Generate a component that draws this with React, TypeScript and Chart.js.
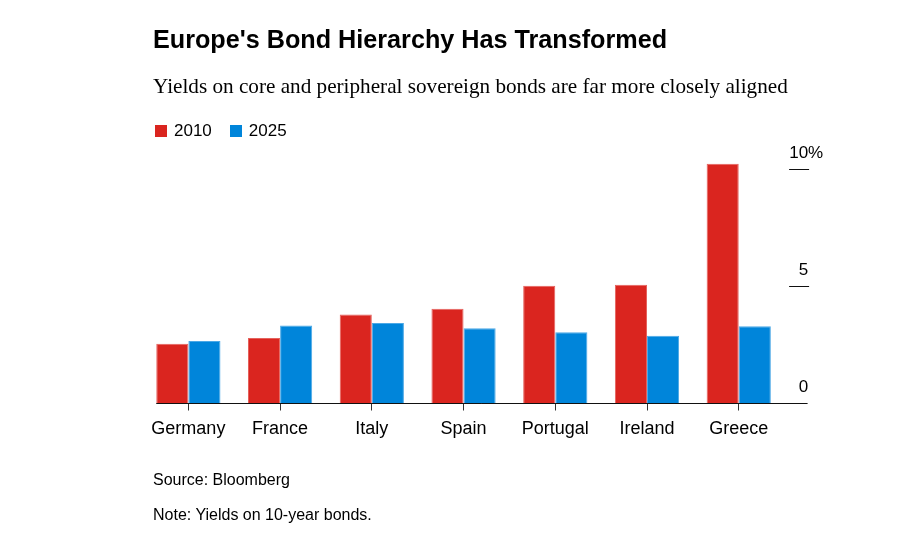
import React, { useEffect, useRef } from "react";
import { Chart, registerables } from "chart.js";

Chart.register(...registerables);

// 10-year sovereign bond yields, %
const categories = ["Germany", "France", "Italy", "Spain", "Portugal", "Ireland", "Greece"];
const yields2010 = [2.55, 2.8, 3.8, 4.05, 5.03, 5.07, 10.25];
const yields2025 = [2.67, 3.33, 3.44, 3.22, 3.05, 2.9, 3.3];
const yTickValues = [0, 5, 10];
const seriesLabels = ["2010", "2025"];

const RED = "#da251f";
const RED_EDGE = "#e5625d";
const BLUE = "#0085da";
const BLUE_EDGE = "#4ba8e6";
const FONT = "'Liberation Sans', Arial, Helvetica, sans-serif";

// Baseline under the bars plus the right-hand value axis with labels sitting above short rules
const rightAxisPlugin = {
  id: "rightAxis",
  afterDatasetsDraw(chart: any) {
    const { ctx, chartArea, scales } = chart;
    const y = scales.y;
    const firstBar = chart.getDatasetMeta(0).data[0];
    const ruleStart = chartArea.right + 4.5;
    const ruleEnd = chartArea.right + 24.5;
    ctx.save();
    ctx.strokeStyle = "#111";
    ctx.lineWidth = 1;
    // baseline
    const zeroY = y.getPixelForValue(0);
    ctx.beginPath();
    ctx.moveTo(firstBar.x - firstBar.width / 2, zeroY);
    ctx.lineTo(ruleEnd - 1.5, zeroY);
    ctx.stroke();
    ctx.font = `17px ${FONT}`;
    ctx.fillStyle = "#000";
    ctx.textBaseline = "middle";
    yTickValues.forEach((v, i) => {
      const py = y.getPixelForValue(v);
      if (v !== 0) {
        ctx.beginPath();
        ctx.moveTo(ruleStart, py);
        ctx.lineTo(ruleEnd, py);
        ctx.stroke();
      }
      const labelY = py - 16.5;
      ctx.textAlign = "right";
      ctx.fillText(String(v), ruleEnd - 1, labelY);
      if (i === yTickValues.length - 1) {
        ctx.textAlign = "left";
        ctx.fillText("%", ruleEnd - 1, labelY);
      }
    });
    ctx.restore();
  },
};

export default function App() {
  const canvasRef = useRef<HTMLCanvasElement | null>(null);

  useEffect(() => {
    if (!canvasRef.current) return;
    const chart = new Chart(canvasRef.current, {
      type: "bar",
      data: {
        labels: categories,
        datasets: [
          {
            label: seriesLabels[0],
            data: yields2010,
            backgroundColor: RED,
            borderColor: RED_EDGE,
            borderWidth: 1,
            barPercentage: 1,
            categoryPercentage: 0.7,
            clip: false,
          },
          {
            label: seriesLabels[1],
            data: yields2025,
            backgroundColor: BLUE,
            borderColor: BLUE_EDGE,
            borderWidth: 1,
            barPercentage: 1,
            categoryPercentage: 0.7,
            clip: false,
          },
        ],
      },
      options: {
        responsive: false,
        animation: false,
        layout: {
          padding: { left: 142.5, right: 139.4, top: 157.8, bottom: 95.5 },
        },
        plugins: {
          legend: { display: false },
          tooltip: { enabled: false },
          title: { display: false },
        },
        scales: {
          x: {
            grid: {
              display: true,
              drawOnChartArea: false,
              drawTicks: true,
              tickLength: 7,
              offset: false,
              color: "#333",
            },
            border: { display: false },
            ticks: {
              color: "#000",
              padding: 7.5,
              font: { family: FONT, size: 18 },
            },
            afterFit: (scale: any) => {
              scale.height = 40;
            },
          },
          y: {
            display: false,
            min: 0,
            max: 10.5,
          },
        },
      },
      plugins: [rightAxisPlugin],
    });
    return () => chart.destroy();
  }, []);

  const text = (style: React.CSSProperties, content: React.ReactNode) => (
    <div style={{ position: "absolute", whiteSpace: "nowrap", color: "#000", ...style }}>{content}</div>
  );

  const swatch = (color: string) => (
    <span
      style={{
        display: "inline-block",
        width: 12,
        height: 12,
        background: color,
        marginRight: 7,
        verticalAlign: "-1px",
      }}
    />
  );

  return (
    <div style={{ position: "absolute", left: 0, top: 0, width: 924, height: 539, background: "#fff", overflow: "hidden" }}>
      <canvas ref={canvasRef} width={924} height={539} style={{ position: "absolute", left: 0, top: 0 }} />
      {text(
        { left: 153, top: 24, fontFamily: FONT, fontWeight: 700, fontSize: 25.2, lineHeight: "30px" },
        "Europe's Bond Hierarchy Has Transformed"
      )}
      {text(
        { left: 153, top: 73.5, fontFamily: "'Liberation Serif', 'Times New Roman', serif", fontSize: 21.2, lineHeight: "24px" },
        "Yields on core and peripheral sovereign bonds are far more closely aligned"
      )}
      <div style={{ position: "absolute", left: 155, top: 120, fontFamily: FONT, fontSize: 17, lineHeight: "22px", whiteSpace: "nowrap" }}>
        {swatch(RED)}
        <span style={{ marginRight: 18 }}>{seriesLabels[0]}</span>
        {swatch(BLUE)}
        <span>{seriesLabels[1]}</span>
      </div>
      {text({ left: 153, top: 470, fontFamily: FONT, fontSize: 16, lineHeight: "20px" }, "Source: Bloomberg")}
      {text({ left: 153, top: 505, fontFamily: FONT, fontSize: 16, lineHeight: "20px" }, "Note: Yields on 10-year bonds.")}
    </div>
  );
}
